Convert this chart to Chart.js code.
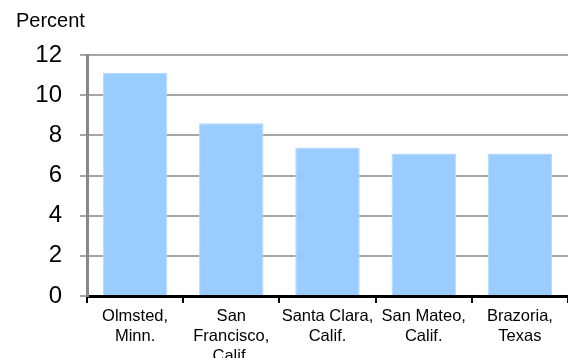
<!DOCTYPE html>
<html lang="en">
<head>
    <meta charset="UTF-8">
    <title>Percent by County</title>
    <script src="https://cdn.jsdelivr.net/npm/chart.js"></script>
    <style>
        body {
            margin: 0;
            background: #ffffff;
        }
        #wrap {
            width: 568px;
            height: 358px;
        }
    </style>
</head>
<body>
    <div id="wrap"><canvas id="countyChart"></canvas></div>

    <script>
        // chart data
        const counties = [
            ['Olmsted,', 'Minn.'],
            ['San', 'Francisco,', 'Calif.'],
            ['Santa Clara,', 'Calif.'],
            ['San Mateo,', 'Calif.'],
            ['Brazoria,', 'Texas']
        ];
        const percentValues = [11.1, 8.6, 7.4, 7.1, 7.1];
        const yTicks = [0, 2, 4, 6, 8, 10, 12];

        const fontFamily = '"Liberation Sans", Arial, sans-serif';

        // "Percent" label above the y axis
        const unitLabel = {
            id: 'unitLabel',
            afterDraw(chart) {
                const c = chart.ctx;
                c.save();
                c.font = '20px ' + fontFamily;
                c.fillStyle = '#000';
                c.textBaseline = 'alphabetic';
                c.fillText('Percent', 16, 27);
                c.restore();
            }
        };

        const ctx = document.getElementById('countyChart').getContext('2d');
        new Chart(ctx, {
            type: 'bar',
            data: {
                labels: counties,
                datasets: [{
                    data: percentValues,
                    backgroundColor: '#99ccff',
                    borderColor: '#b3d9ff',
                    borderWidth: 1,
                    barPercentage: 0.67,
                    categoryPercentage: 1
                }]
            },
            options: {
                responsive: true,
                maintainAspectRatio: false,
                animation: false,
                layout: {
                    padding: { top: 55, left: 0, right: 0, bottom: 0 }
                },
                plugins: {
                    legend: { display: false },
                    tooltip: { enabled: false }
                },
                scales: {
                    x: {
                        z: 1,
                        border: { color: '#000', width: 3 },
                        grid: {
                            offset: true,
                            drawOnChartArea: false,
                            color: '#000',
                            lineWidth: 2,
                            tickLength: 7
                        },
                        ticks: {
                            color: '#000',
                            padding: 4,
                            maxRotation: 0,
                            autoSkip: false,
                            font: { family: fontFamily, size: 16.5, lineHeight: 1.2 }
                        },
                        afterFit(scale) { scale.height = 62; }
                    },
                    y: {
                        min: 0,
                        max: 12,
                        afterBuildTicks(scale) {
                            scale.ticks = yTicks.map(v => ({ value: v }));
                        },
                        border: { color: '#888888', width: 3 },
                        grid: {
                            color: '#a6a6a6',
                            lineWidth: 2,
                            tickLength: 7
                        },
                        ticks: {
                            color: '#000',
                            padding: 18,
                            font: { family: fontFamily, size: 24 }
                        },
                        afterFit(scale) { scale.width = 87; }
                    }
                }
            },
            plugins: [unitLabel]
        });
    </script>
</body>
</html>
